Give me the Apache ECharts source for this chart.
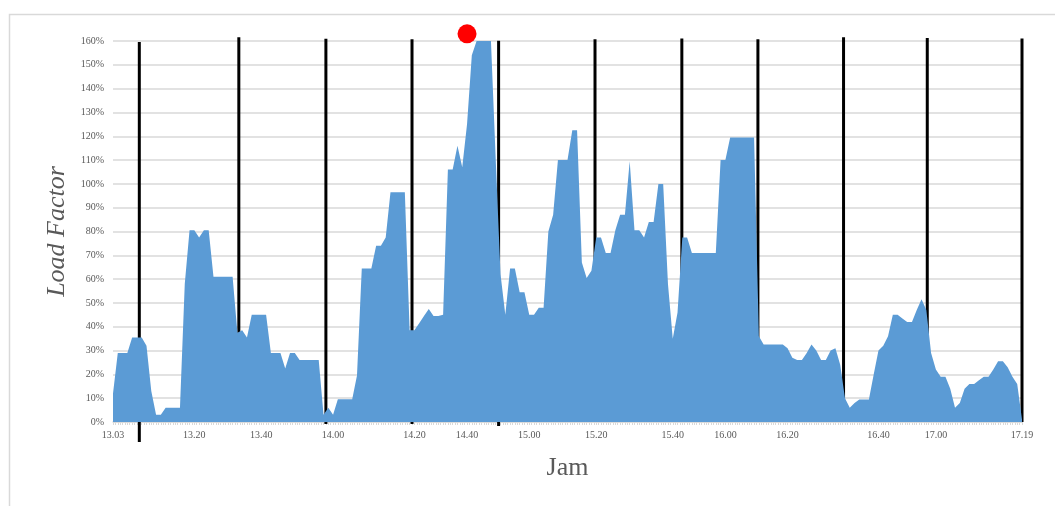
<!DOCTYPE html>
<html>

<head>
	<meta charset="UTF-8">
	<title>Load Factor</title>
	<script src="https://cdn.jsdelivr.net/npm/echarts@6/dist/echarts.min.js"></script>
	<style>
		html, body { margin: 0; padding: 0; background: #fff; }
		#container { width: 1055px; height: 506px; }
	</style>
</head>

<body>
	<div id="container"></div>
	<script type="text/javascript">
		// load factor per sample (%)
		var loadFactor = [
			12, 29, 29, 29, 35.5, 35.5, 35.5, 32, 13, 3,
			3, 6, 6, 6, 6, 58, 80.5, 80.5, 77.5, 80.5,
			80.5, 61, 61, 61, 61, 61, 37.5, 38.5, 35.5, 45,
			45, 45, 45, 29, 29, 29, 22.5, 29, 29, 26,
			26, 26, 26, 26, 3, 6, 3, 9.6, 9.6, 9.6,
			9.6, 19.5, 64.5, 64.5, 64.5, 74, 74, 77.5, 96.5, 96.5,
			96.5, 96.5, 38.5, 38.5, 41.5, 44.5, 47.5, 44.5, 44.5, 45,
			106, 106, 116, 107, 125, 154, 160, 160, 160, 160,
			110, 62, 45, 64.5, 64.5, 54.5, 54.5, 45, 45, 48,
			48, 80, 87, 110, 110, 110, 122.5, 122.5, 67, 60.5,
			63.5, 77.5, 77.5, 71, 71, 80.5, 87, 87, 109.5, 80.5,
			80.5, 77.5, 84, 84, 100, 100, 58, 35, 46, 77.5,
			77.5, 71, 71, 71, 71, 71, 71, 110, 110, 119.5,
			119.5, 119.5, 119.5, 119.5, 119.5, 36, 32.5, 32.5, 32.5, 32.5,
			32.5, 31, 27, 26, 26, 29, 32.5, 30, 26, 26,
			30, 31, 24, 10, 6, 8, 9.5, 9.5, 9.5, 20,
			30, 32, 36, 45, 45, 43.5, 42, 42, 47, 51.5,
			47, 29, 22, 19, 19, 14, 6, 8, 14, 16,
			16, 17.5, 19, 19, 22, 25.5, 25.5, 23, 19, 16,
			1
		];
		// x axis labels (sample index -> time)
		var tickIndex = [0, 17, 31, 46, 63, 74, 87, 101, 117, 128, 141, 160, 172, 190];
		var tickText = ['13.03', '13.20', '13.40', '14.00', '14.20', '14.40', '15.00', '15.20', '15.40', '16.00', '16.20', '16.40', '17.00', '17.19'];
		// black divider lines (sample index, top %, bottom %)
		var dividerAt = [5.5, 26.3, 44.5, 62.5, 80.6, 100.75, 118.9, 134.8, 152.7, 170.2, 190];
		var dividerTop = [159.6, 161.6, 160.9, 160.7, 160.1, 160.7, 161, 160.7, 161.6, 161.3, 161];
		var dividerBottom = [-8.4, 0, -0.8, -0.8, -1.7, 0, 0, 0, 0, 0, 0];
		// red marker
		var peakAt = [74, 163];

		var serif = "'Liberation Serif', 'Times New Roman', serif";
		var labelMap = {};
		for (var k = 0; k < tickIndex.length; k++) {
			labelMap[tickIndex[k]] = tickText[k];
		}

		var myChart = echarts.init(document.getElementById('container'), null, { renderer: 'canvas' });
		var option = {
			animation: false,
			grid: {
				left: 113,
				right: 33,
				top: 41,
				bottom: 84
			},
			graphic: [{
				type: 'rect',
				left: 7,
				top: 12,
				shape: { width: 1100, height: 600 },
				style: { fill: 'none', stroke: '#d9d9d9', lineWidth: 1.5 },
				silent: true
			}],
			xAxis: {
				type: 'value',
				min: 0,
				max: loadFactor.length - 1,
				interval: 1,
				name: 'Jam',
				nameLocation: 'middle',
				nameGap: 33,
				nameTextStyle: { fontFamily: serif, fontSize: 26, color: '#595959' },
				axisLine: { show: true, lineStyle: { color: '#d9d9d9', width: 1.5 } },
				axisTick: { show: true, length: 3, lineStyle: { color: '#d9d9d9' } },
				minorTick: { show: true, splitNumber: 2, length: 3, lineStyle: { color: '#d9d9d9' } },
				splitLine: { show: false },
				axisLabel: {
					margin: 8,
					fontFamily: serif,
					fontSize: 10,
					color: '#595959',
					formatter: function (v) {
						return labelMap[v] || '';
					}
				}
			},
			yAxis: {
				type: 'value',
				min: 0,
				max: 160,
				interval: 10,
				name: 'Load Factor',
				nameLocation: 'middle',
				nameGap: 43,
				nameTextStyle: { fontFamily: serif, fontSize: 26, fontStyle: 'italic', color: '#595959' },
				axisLine: { show: false },
				axisTick: { show: false },
				splitLine: { lineStyle: { color: '#d9d9d9', width: 1.5 } },
				axisLabel: {
					margin: 9,
					fontFamily: serif,
					fontSize: 10,
					color: '#595959',
					formatter: '{value}%'
				}
			},
			series: [{
					name: 'Load Factor',
					type: 'line',
					symbol: 'none',
					lineStyle: { width: 0 },
					areaStyle: { color: '#5b9bd5', opacity: 1 },
					data: loadFactor.map(function (v, i) { return [i, v]; })
				},
				{
					type: 'custom',
					silent: true,
					renderItem: function (params, api) {
						var p1 = api.coord([api.value(0), api.value(1)]);
						var p2 = api.coord([api.value(0), api.value(2)]);
						return {
							type: 'line',
							shape: { x1: p1[0], y1: p1[1], x2: p2[0], y2: p2[1] },
							style: { stroke: '#000', lineWidth: 3 }
						};
					},
					data: dividerAt.map(function (x, i) { return [x, dividerTop[i], dividerBottom[i]]; })
				},
				{
					type: 'scatter',
					clip: false,
					silent: true,
					symbolSize: 19,
					itemStyle: { color: '#ff0000', opacity: 1 },
					data: [peakAt]
				}
			]
		};
		myChart.setOption(option);
	</script>
</body>

</html>
